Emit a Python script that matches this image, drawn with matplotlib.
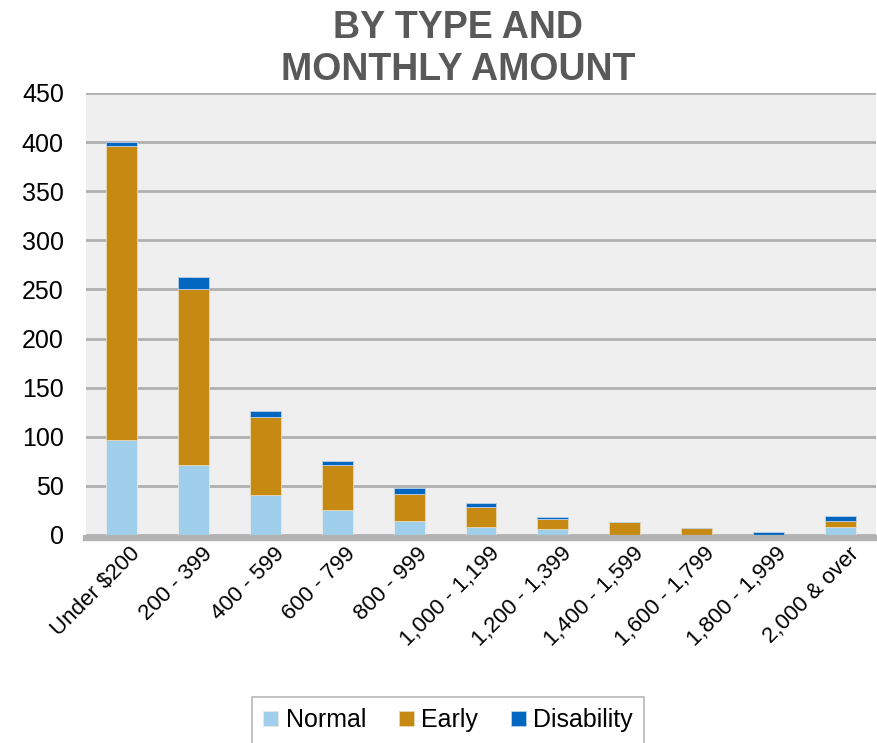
import matplotlib.pyplot as plt
import numpy as np
from matplotlib.transforms import ScaledTranslation

plt.rcParams['font.family'] = ['Liberation Sans', 'DejaVu Sans']

categories = ['Under $200', '200 - 399', '400 - 599', '600 - 799', '800 - 999',
              '1,000 - 1,199', '1,200 - 1,399', '1,400 - 1,599', '1,600 - 1,799',
              '1,800 - 1,999', '2,000 & over']
normal = [97, 71, 41, 25, 14, 8, 6, 0, 0, 0, 8]
early = [299, 179, 79, 46, 28, 20, 10, 13, 7, 0, 6]
disability = [4, 13, 6, 4, 6, 5, 2, 0, 0, 3, 5]

c_normal, c_early, c_dis = '#9FCFEB', '#C68A12', '#0066C0'

fig = plt.figure(figsize=(8.78, 7.43), dpi=100)
ax = fig.add_axes([86/878, 1-535/743, 790/878, 442/743])
ax.set_facecolor('#EFEFEF')

x = np.arange(len(categories))
normal, early, disability = np.array(normal), np.array(early), np.array(disability)
w = 0.43
ax.bar(x, normal, w, color=c_normal, edgecolor='#E8E8E8', linewidth=0.6, label='Normal', zorder=3)
ax.bar(x, early, w, bottom=normal, color=c_early, edgecolor='#E8D8B8', linewidth=0.6, label='Early', zorder=3)
ax.bar(x, disability, w, bottom=normal + early, color=c_dis, edgecolor='#B8D0E8', linewidth=0.6, label='Disability', zorder=3)

ax.set_xlim(-0.5, len(categories) - 0.5)
ax.set_ylim(0, 450)
ax.set_yticks(range(0, 451, 50))
ax.yaxis.grid(True, color='#B0B0B0', linewidth=2)
ax.set_axisbelow(True)
# thick gray base line just under the bars
ax.axhline(-2.6, color='#B3B3B3', linewidth=4.5, zorder=4, clip_on=False)
for s in ax.spines.values():
    s.set_visible(False)
ax.tick_params(axis='both', length=0)
ax.tick_params(axis='y', labelsize=18, pad=16)
ax.set_xticks(x)
ax.set_xticklabels(categories, rotation=45, ha='right', rotation_mode='anchor', fontsize=16)
ax.tick_params(axis='x', pad=6)
off = ScaledTranslation(8/100, 0, fig.dpi_scale_trans)
for lab in ax.get_xticklabels():
    lab.set_transform(lab.get_transform() + off)

fig.text(458/878, 1-49/743, 'BY TYPE AND\nMONTHLY AMOUNT', ha='center', va='center',
         fontsize=27, fontweight='bold', color='#595959', linespacing=1.25)

leg = fig.legend(loc='upper center', bbox_to_anchor=(448/878, 1-697/743), ncol=3,
                 fontsize=18, frameon=True, fancybox=False, edgecolor='#A6A6A6',
                 handlelength=0.6, handleheight=0.6, handletextpad=0.3, columnspacing=1.3,
                 borderpad=0.45, borderaxespad=0)
leg.get_frame().set_linewidth(1.2)

fig.savefig('out.png', dpi=100)
